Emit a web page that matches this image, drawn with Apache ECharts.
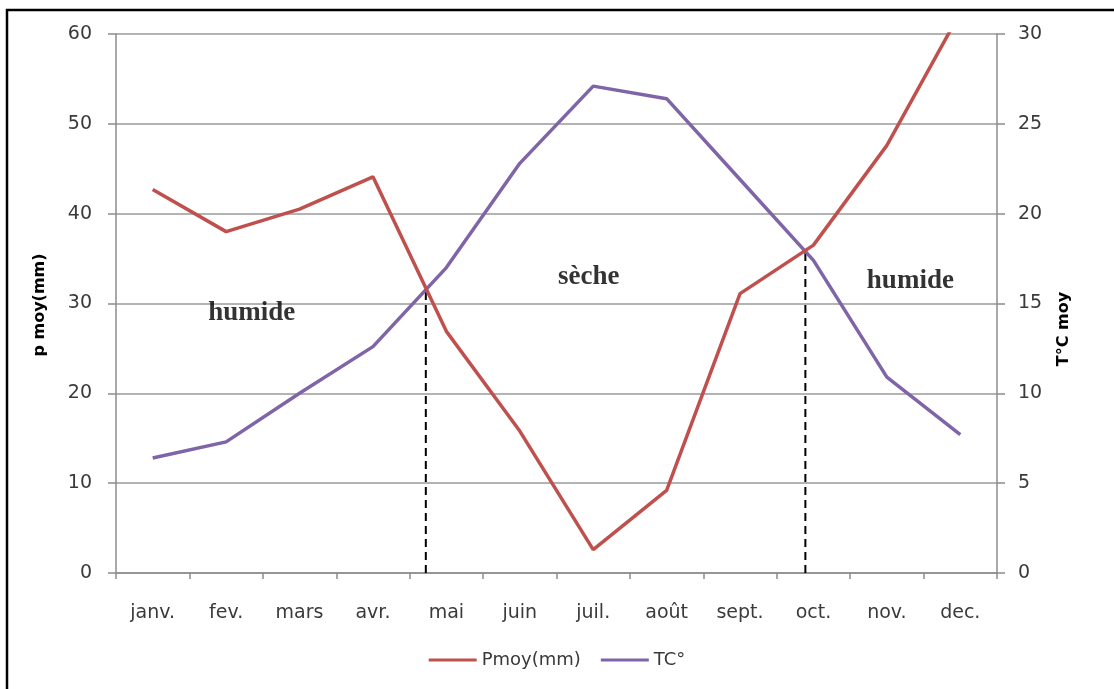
<!DOCTYPE html>
<html>
<head>
<meta charset="utf-8">
<script src="https://cdn.jsdelivr.net/npm/echarts@6/dist/echarts.min.js"></script>
<style>
  html, body { margin: 0; padding: 0; background: #fff; }
  #chart { width: 1114px; height: 689px; }
</style>
</head>
<body>
<div id="chart"></div>
<script>
// Monthly climate data
const months = ['janv.', 'fev.', 'mars', 'avr.', 'mai', 'juin', 'juil.', 'août', 'sept.', 'oct.', 'nov.', 'dec.'];
const pmoy = [42.7, 38.0, 40.5, 44.1, 26.9, 15.8, 2.6, 9.2, 31.1, 36.5, 47.6, 62.4];
const temp = [6.4, 7.3, 10.0, 12.6, 17.0, 22.8, 27.1, 26.4, 21.9, 17.4, 10.9, 7.7];
const leftTicks = { min: 0, max: 60, interval: 10 };
const rightTicks = { min: 0, max: 30, interval: 5 };

// Crossing points of the two curves (month index, precipitation value)
const crossings = [[3.72, 31.5], [8.89, 35.7]];

// Season labels (month index, precipitation value, text)
const seasons = [[1.35, 28.9, 'humide'], [5.94, 32.9, 'sèche'], [10.32, 32.5, 'humide']];

const axisGray = '#8c8c8c';
const tickFont = { fontFamily: 'DejaVu Sans', fontSize: 19, color: '#3a3a3a' };

const chart = echarts.init(document.getElementById('chart'));

const dashedSeries = crossings.map(c => ({
  type: 'line',
  xAxisIndex: 1,
  yAxisIndex: 0,
  data: [[c[0], 0], [c[0], c[1]]],
  showSymbol: false,
  symbol: 'none',
  silent: true,
  lineStyle: { color: '#000', width: 2, type: [8, 5] },
  z: 1
}));

chart.setOption({
  animation: false,
  backgroundColor: '#fff',
  grid: { left: 116, right: 117, top: 34, bottom: 116 },
  legend: {
    bottom: 15,
    left: 'center',
    itemWidth: 48,
    itemHeight: 3,
    itemGap: 20,
    icon: 'rect',
    data: ['Pmoy(mm)', 'TC°'],
    textStyle: { fontFamily: 'DejaVu Sans', fontSize: 18, color: '#3a3a3a' }
  },
  xAxis: [{
    type: 'category',
    data: months,
    boundaryGap: true,
    axisLine: { lineStyle: { color: axisGray, width: 1.5 } },
    axisTick: { show: true, alignWithLabel: false, length: 6, lineStyle: { color: axisGray, width: 1.5 } },
    axisLabel: Object.assign({ margin: 31 }, tickFont),
    splitLine: { show: false }
  }, {
    type: 'value',
    min: -0.5,
    max: 11.5,
    show: false
  }],
  yAxis: [{
    type: 'value',
    min: leftTicks.min, max: leftTicks.max, interval: leftTicks.interval,
    axisLine: { show: true, onZero: false, lineStyle: { color: axisGray, width: 1.5 } },
    axisTick: { show: true, length: 8, lineStyle: { color: axisGray, width: 1.5 } },
    axisLabel: Object.assign({ margin: 24 }, tickFont),
    splitLine: { show: true, lineStyle: { color: '#9a9a9a', width: 1.5 } }
  }, {
    type: 'value',
    min: rightTicks.min, max: rightTicks.max, interval: rightTicks.interval,
    position: 'right',
    axisLine: { show: true, onZero: false, lineStyle: { color: axisGray, width: 1.5 } },
    axisTick: { show: true, length: 8, lineStyle: { color: axisGray, width: 1.5 } },
    axisLabel: Object.assign({ margin: 21 }, tickFont),
    splitLine: { show: false }
  }],
  graphic: [
    {
      type: 'rect',
      shape: { x: 7, y: 10, width: 1300, height: 900 },
      style: { fill: 'none', stroke: '#000', lineWidth: 2.5 },
      silent: true
    },
    {
      type: 'text',
      x: 40, y: 305,
      rotation: Math.PI / 2,
      style: {
        text: 'p moy(mm)', fontFamily: 'DejaVu Sans', fontWeight: 'bold', fontSize: 16,
        fill: '#000', textAlign: 'center', textVerticalAlign: 'middle'
      }
    },
    {
      type: 'text',
      x: 1064, y: 329,
      rotation: Math.PI / 2,
      style: {
        text: 'T°C moy', fontFamily: 'DejaVu Sans', fontWeight: 'bold', fontSize: 16,
        fill: '#000', textAlign: 'center', textVerticalAlign: 'middle'
      }
    }
  ],
  series: [
    ...dashedSeries,
    {
      name: 'Pmoy(mm)',
      type: 'line',
      yAxisIndex: 0,
      data: pmoy,
      showSymbol: false,
      symbol: 'none',
      clip: true,
      color: '#c0504d',
      lineStyle: { color: '#c0504d', width: 3.5 },
      z: 3
    },
    {
      name: 'TC°',
      type: 'line',
      yAxisIndex: 1,
      data: temp,
      showSymbol: false,
      symbol: 'none',
      color: '#7f64a8',
      lineStyle: { color: '#7f64a8', width: 3.5 },
      z: 2
    },
    {
      type: 'scatter',
      xAxisIndex: 1,
      yAxisIndex: 0,
      symbolSize: 0,
      silent: true,
      data: seasons.map(s => ({ value: [s[0], s[1]], name: s[2] })),
      label: {
        show: true,
        position: 'inside',
        formatter: p => p.name,
        fontFamily: 'Liberation Serif',
        fontWeight: 'bold',
        fontSize: 27,
        color: '#000'
      },
      z: 4
    }
  ]
});
</script>
</body>
</html>
